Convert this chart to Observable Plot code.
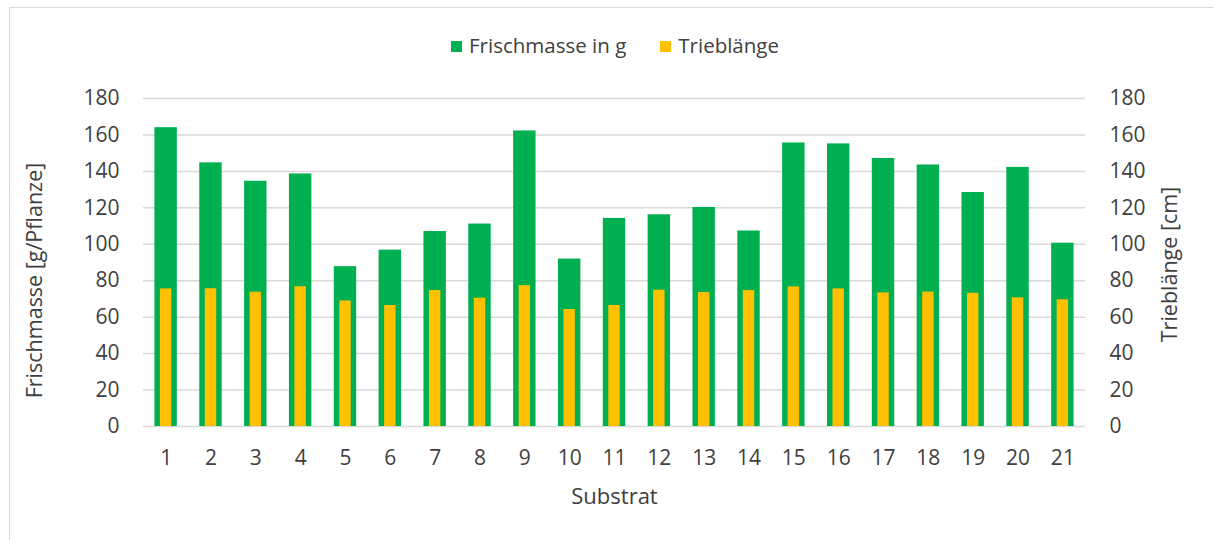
<!DOCTYPE html>
<html>
<head>
<meta charset="utf-8">
<script src="https://cdn.jsdelivr.net/npm/d3@7"></script>
<script src="https://cdn.jsdelivr.net/npm/@observablehq/plot@0.6"></script>
<style>
  body { margin: 0; background: #fff; font-family: "Open Sans", sans-serif; }
  #frame { position: absolute; left: 9px; top: 7px; width: 1210px; height: 540px; border: 1px solid #d9d9d9; box-sizing: border-box; }
  #legend { position: absolute; top: 31px; left: 8px; width: 1214px; text-align: center; font-size: 20.5px; color: #404040; }
  #legend span.item { display: inline-block; margin: 0 17px; }
  #legend span.sw { display: inline-block; width: 11px; height: 11px; margin-right: 7px; vertical-align: 1px; }
  #chart { position: absolute; left: 0; top: 70px; }
</style>
</head>
<body>
<div id="frame"></div>
<div id="legend"></div>
<div id="chart"></div>
<script>
const substrat = ["1","2","3","4","5","6","7","8","9","10","11","12","13","14","15","16","17","18","19","20","21"];
const frischmasse = [164.0,144.7,134.6,138.6,87.7,96.8,107.0,111.1,162.2,91.9,114.2,116.2,120.2,107.3,155.6,155.1,147.1,143.5,128.4,142.2,100.6];
const trieblaenge = [75.5,75.6,73.7,76.7,68.9,66.4,74.6,70.4,77.3,64.2,66.4,74.8,73.5,74.6,76.6,75.5,73.3,73.8,73.1,70.6,69.5];
const seriesNames = ["Frischmasse in g", "Trieblänge"];
const seriesColors = ["#00b050", "#ffc000"];
const yTicks = [0,20,40,60,80,100,120,140,160,180];
const titles = { left: "Frischmasse [g/Pflanze]", right: "Trieblänge [cm]", bottom: "Substrat" };

const rowsF = substrat.map((s, i) => ({s, v: frischmasse[i]}));
const rowsT = substrat.map((s, i) => ({s, v: trieblaenge[i]}));

document.getElementById("legend").innerHTML = seriesNames.map((n, i) =>
  `<span class="item"><span class="sw" style="background:${seriesColors[i]}"></span>${n}</span>`).join("");

const chart = Plot.plot({
  width: 1214,
  height: 470,
  marginLeft: 143,
  marginRight: 129,
  marginTop: 28,
  marginBottom: 114,
  style: { fontFamily: "Open Sans, sans-serif", fontSize: "21px", color: "#404040", background: "transparent" },
  x: { domain: substrat, padding: 0.5, range: [132, 1096], round: false, label: null },
  y: { domain: [0, 180], label: null },
  marks: [
    Plot.gridY(yTicks, { stroke: "#d9d9d9", strokeOpacity: 1, strokeWidth: 1.5 }),
    Plot.barY(rowsF, { x: "s", y: "v", fill: seriesColors[0] }),
    Plot.barY(rowsT, { x: "s", y: "v", fill: seriesColors[1], insetLeft: 5.5, insetRight: 5.5 }),
    Plot.axisY(yTicks, { anchor: "left", tickSize: 0, tickPadding: 24, label: null, fontSize: 21 }),
    Plot.axisY(yTicks, { anchor: "right", tickSize: 0, tickPadding: 24, label: null, fontSize: 21 }),
    Plot.axisX({ tickSize: 0, tickPadding: 24, label: null, fontSize: 21 }),
    Plot.text([titles.left], { frameAnchor: "left", dx: -108, dy: 18, rotate: -90, textAnchor: "middle", fontSize: 21.5, fill: "#404040" }),
    Plot.text([titles.right], { frameAnchor: "right", dx: 85, dy: 2, rotate: -90, textAnchor: "middle", fontSize: 21.5, fill: "#404040" }),
    Plot.text([titles.bottom], { frameAnchor: "bottom", dy: 77, textAnchor: "middle", fontSize: 22, fill: "#404040" })
  ]
});
document.getElementById("chart").appendChild(chart);
</script>
</body>
</html>
